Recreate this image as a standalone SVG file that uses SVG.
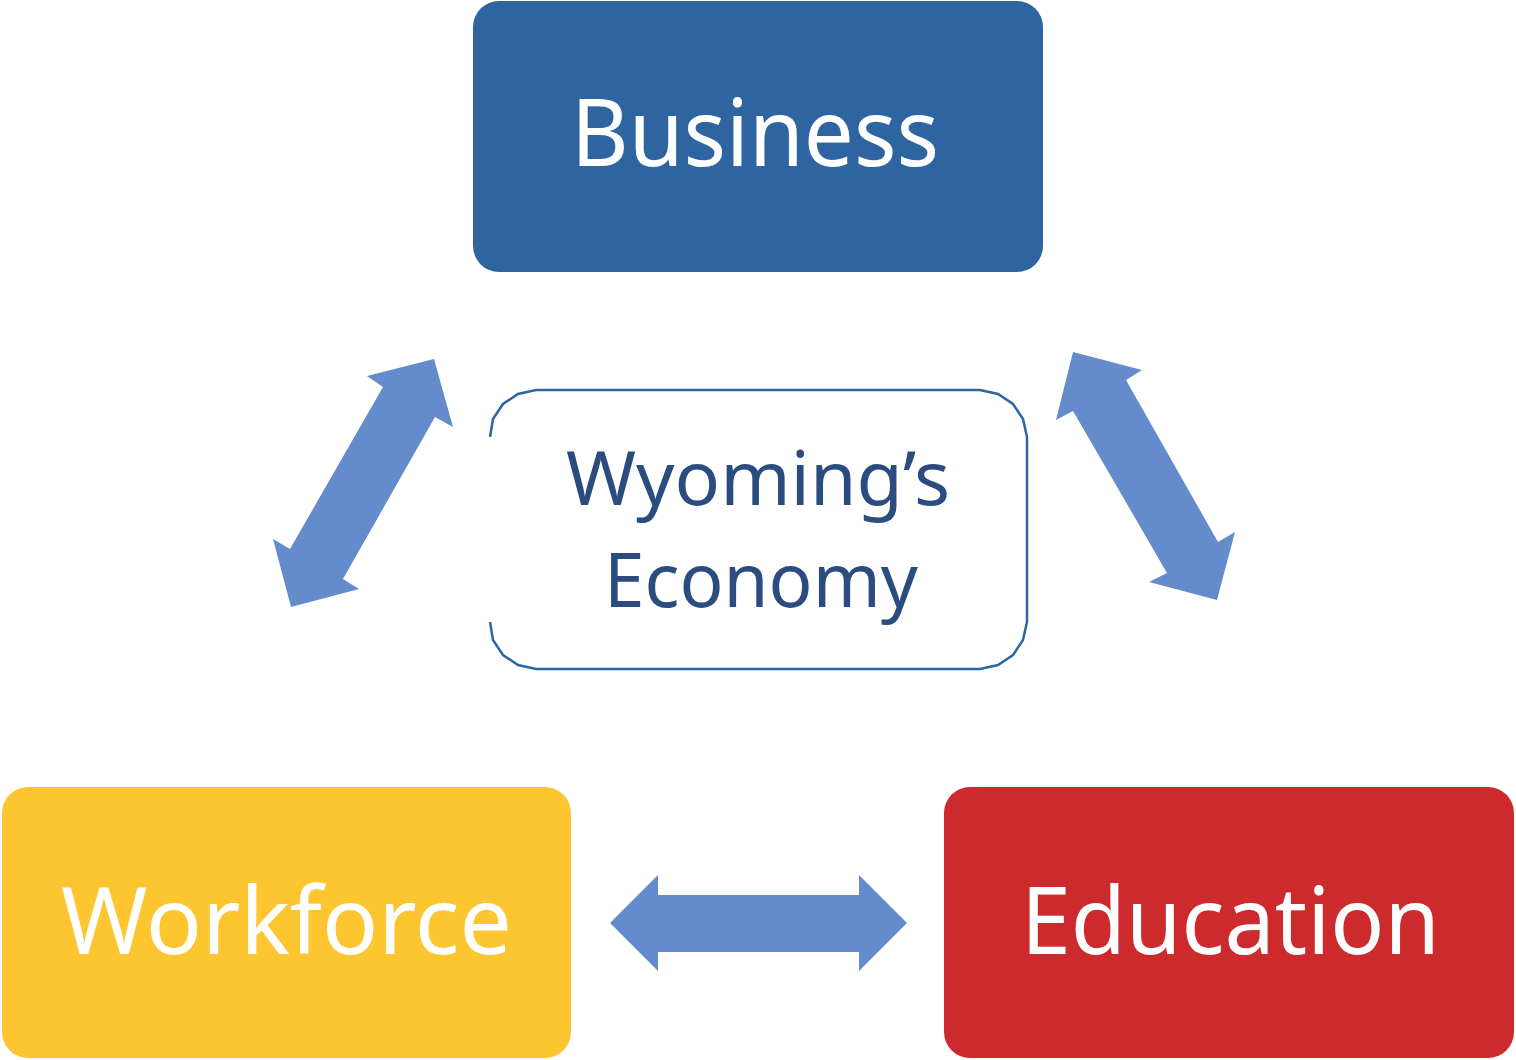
<svg xmlns="http://www.w3.org/2000/svg" width="1516" height="1060" viewBox="0 0 1516 1060">
<style>
.lbl{font-family:"Noto Sans","Open Sans","Liberation Sans",sans-serif;}
.w{fill:#ffffff;font-size:93px;}
.c{fill:#2B4C7E;font-size:74px;}
.arr{fill:#648BCB;}
</style>
<rect width="1516" height="1060" fill="#ffffff"/>
<g id="business">
<rect x="473" y="1" width="570" height="271" rx="26" ry="26" fill="#2E65A0"/>
<text class="lbl w" x="571" y="166" textLength="368" lengthAdjust="spacingAndGlyphs">Business</text>
</g>
<g id="economy">
<path d="M490,437 L493,419 L503,404 L518,394 L536,390 L980,390 L998,394 L1013,404 L1023,419 L1027,437 L1027,622 L1023,640 L1013,655 L998,665 L980,669 L536,669 L518,665 L503,655 L493,640 L490,622" fill="#ffffff" stroke="#2E66A5" stroke-width="2.5"/>
<text class="lbl c" x="566" y="505" textLength="384" lengthAdjust="spacingAndGlyphs">Wyoming’s</text>
<text class="lbl c" x="604" y="607" textLength="314" lengthAdjust="spacingAndGlyphs">Economy</text>
</g>
<g id="workforce">
<rect x="2" y="787" width="569" height="271" rx="26" ry="26" fill="#FDC52F"/>
<text class="lbl w" x="61" y="954" textLength="451" lengthAdjust="spacingAndGlyphs">Workforce</text>
</g>
<g id="education">
<rect x="944" y="787" width="570" height="271" rx="26" ry="26" fill="#CD2A2E"/>
<text class="lbl w" x="1021" y="954" textLength="419" lengthAdjust="spacingAndGlyphs">Education</text>
</g>
<g id="connectors">
<polygon class="arr" points="434,359 453,427 435,417 343,579 359,589 291,607 273,539 290,549 383,387 367,376"/>
<polygon class="arr" points="1073,352 1142,370 1126,380 1218,542 1235,532 1217,600 1149,582 1167,573 1073,411 1056,420"/>
<polygon class="arr" points="610,923 658,875 658,895 859,895 859,875 907,923 859,971 859,952 658,952 658,971"/>
</g>
</svg>
